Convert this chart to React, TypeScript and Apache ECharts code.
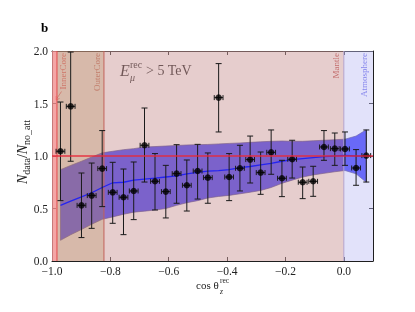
import React, { useEffect, useRef } from "react";
import * as echarts from "echarts";

// ---- data ----
const xCenters = [-0.971, -0.936, -0.899, -0.864, -0.828, -0.792, -0.755, -0.72, -0.683, -0.647, -0.61, -0.573, -0.538, -0.501, -0.466, -0.429, -0.393, -0.356, -0.321, -0.285, -0.249, -0.212, -0.177, -0.141, -0.105, -0.068, -0.031, 0.004, 0.042, 0.077];
const ratio = [1.045, 1.473, 0.53, 0.623, 0.88, 0.654, 0.607, 0.667, 1.102, 0.759, 0.661, 0.832, 0.721, 0.857, 0.794, 1.556, 0.8, 0.883, 0.966, 0.842, 1.035, 0.788, 0.969, 0.75, 0.759, 1.086, 1.07, 1.067, 0.886, 1.004];
const errHigh = [1.514, 1.99, 0.838, 0.933, 1.242, 0.94, 0.876, 0.943, 1.457, 1.023, 0.911, 1.108, 0.962, 1.111, 1.029, 1.88, 1.023, 1.102, 1.19, 1.038, 1.248, 0.959, 1.15, 0.895, 0.902, 1.242, 1.219, 1.229, 1.061, 1.248];
const errLow = [0.575, 0.95, 0.223, 0.311, 0.518, 0.359, 0.251, 0.394, 0.752, 0.486, 0.41, 0.55, 0.476, 0.59, 0.55, 1.229, 0.575, 0.667, 0.743, 0.635, 0.826, 0.613, 0.79, 0.594, 0.616, 0.959, 0.911, 0.911, 0.721, 0.752];
const xErr = 0.015;
const bandUpper = [0.87, 0.91, 0.95, 0.99, 1.03, 1.045, 1.06, 1.07, 1.085, 1.09, 1.095, 1.1, 1.105, 1.108, 1.11, 1.115, 1.12, 1.124, 1.13, 1.135, 1.14, 1.143, 1.14, 1.14, 1.145, 1.15, 1.155, 1.16, 1.19, 1.25];
const bandLower = [0.197, 0.25, 0.3, 0.35, 0.397, 0.42, 0.445, 0.465, 0.475, 0.485, 0.5, 0.53, 0.555, 0.575, 0.6, 0.615, 0.625, 0.64, 0.655, 0.672, 0.7, 0.74, 0.77, 0.8, 0.82, 0.835, 0.85, 0.862, 0.83, 0.75];
const bandMedian = [0.53, 0.57, 0.61, 0.65, 0.7, 0.745, 0.75, 0.77, 0.78, 0.79, 0.8, 0.81, 0.83, 0.845, 0.855, 0.86, 0.87, 0.89, 0.9, 0.915, 0.93, 0.95, 0.965, 0.975, 0.985, 0.995, 1.0, 1.005, 1.0, 1.0];
const refLevel = 1.0;

const regionNames = ["InnerCore", "OuterCore", "Mantle", "Atmosphere"];
const regionStart = [-1.0, -0.983, -0.822, 0.0];
const regionEnd = [-0.983, -0.822, 0.0, 0.1];
const boundaries = [-0.983, -0.822, 0.0];

const xTicks = [-1.0, -0.8, -0.6, -0.4, -0.2, 0.0];
const yTicks = [0.0, 0.5, 1.0, 1.5, 2.0];

// ---- styles ----
const X_MIN = -1.0, X_MAX = 0.1, Y_MIN = 0, Y_MAX = 2.0;
const regionFill = ["rgba(241,144,144,0.8)", "rgba(192,146,122,0.64)", "rgba(205,155,155,0.5)", "rgba(189,189,244,0.44)"];
const boundaryColor = ["#e5484c", "#c2605a", "#b4a4cc"];
const regionLabelColor = ["#e8484c", "#c45a52", "#b83c3c", "#5a5ae6"];
const regionLabelX = [62.5, 97, 336, 364];
const SERIF = '"Liberation Serif", "DejaVu Serif", serif';

const fmt = (v: number) => {
  if (!xTicks.concat(yTicks).some((t) => Math.abs(t - v) < 1e-6)) return "";
  const s = Math.abs(v).toFixed(1);
  return v < -1e-9 ? "\u2212" + s : s;
};

export default function App() {
  const ref = useRef<HTMLDivElement>(null);
  useEffect(() => {
    const chart = echarts.init(ref.current!, null, { renderer: "svg" });
    const axisCommon = {
      axisLine: { show: true, onZero: false, lineStyle: { color: "#1e1e1e", width: 1 } },
      axisTick: { show: true, inside: true, length: 4, lineStyle: { color: "#1e1e1e", width: 1 } },
      splitLine: { show: false },
    };
    const labelStyle = { color: "#222", fontFamily: SERIF, fontSize: 11.5, lineHeight: 10, margin: 4, formatter: fmt };
    const xLabelStyle = { ...labelStyle, margin: 5 };
    const option: any = {
      animation: false,
      grid: { left: 52, top: 51, width: 321, height: 210 },
      xAxis: [
        { type: "value", min: X_MIN, max: X_MAX, interval: 0.2, position: "bottom", ...axisCommon, axisLabel: xLabelStyle },
        { type: "value", min: X_MIN, max: X_MAX, interval: 0.2, position: "top", ...axisCommon, axisLabel: { show: false } },
      ],
      yAxis: [
        { type: "value", min: Y_MIN, max: Y_MAX, interval: 0.5, position: "left", ...axisCommon, axisLabel: labelStyle },
        { type: "value", min: Y_MIN, max: Y_MAX, interval: 0.5, position: "right", ...axisCommon, axisLabel: { show: false } },
      ],
      series: [
        {
          type: "custom", name: "band", z: 2, silent: true,
          data: [[xCenters[0], bandLower[0]]],
          renderItem: (params: any, api: any) => {
            const top = xCenters.map((x, i) => api.coord([x, bandUpper[i]]));
            const bot = xCenters.map((x, i) => api.coord([x, bandLower[i]])).reverse();
            return {
              type: "polygon",
              shape: { points: top.concat(bot) },
              style: { fill: "rgb(40,40,250)", stroke: "rgba(50,40,120,0.85)", lineWidth: 0.8 },
            };
          },
        },
        {
          type: "custom", name: "regions", z: 3, silent: true,
          data: regionStart.map((s, i) => [s, regionEnd[i]]),
          renderItem: (params: any, api: any) => {
            const p0 = api.coord([api.value(0), Y_MAX]);
            const p1 = api.coord([api.value(1), Y_MIN]);
            return {
              type: "rect",
              shape: { x: p0[0], y: p0[1], width: p1[0] - p0[0], height: p1[1] - p0[1] },
              style: { fill: regionFill[params.dataIndex] },
            };
          },
        },
        {
          type: "custom", name: "boundaries", z: 4, silent: true,
          data: boundaries.map((b) => [b]),
          renderItem: (params: any, api: any) => {
            const p0 = api.coord([api.value(0), Y_MAX]);
            const p1 = api.coord([api.value(0), Y_MIN]);
            return {
              type: "line",
              shape: { x1: p0[0], y1: p0[1], x2: p1[0], y2: p1[1] },
              style: { stroke: boundaryColor[params.dataIndex], lineWidth: 1 },
            };
          },
        },
        {
          type: "line", name: "median", symbol: "none", z: 5, silent: true,
          data: xCenters.map((x, i) => [x, bandMedian[i]]),
          lineStyle: { color: "#2424f0", width: 1.3 },
        },
        {
          type: "custom", name: "errors", z: 6, silent: true,
          data: xCenters.map((x, i) => [x, ratio[i], errLow[i], errHigh[i]]),
          encode: { x: 0, y: [1, 2, 3] },
          renderItem: (params: any, api: any) => {
            const x = api.value(0), y = api.value(1), lo = api.value(2), hi = api.value(3);
            const pl = api.coord([x, lo]);
            const ph = api.coord([x, hi]);
            const xl = api.coord([x - xErr, y]);
            const xr = api.coord([x + xErr, y]);
            const cap = 3;
            const st = { stroke: "#1a1a1a", lineWidth: 1 };
            const ln = (x1: number, y1: number, x2: number, y2: number) => ({ type: "line", shape: { x1, y1, x2, y2 }, style: st });
            return {
              type: "group",
              children: [
                ln(pl[0], pl[1], ph[0], ph[1]),
                ln(ph[0] - cap, ph[1], ph[0] + cap, ph[1]),
                ln(pl[0] - cap, pl[1], pl[0] + cap, pl[1]),
                ln(xl[0], xl[1], xr[0], xr[1]),
                ln(xl[0], xl[1] - 2.5, xl[0], xl[1] + 2.5),
                ln(xr[0], xr[1] - 2.5, xr[0], xr[1] + 2.5),
              ],
            };
          },
        },
        {
          type: "scatter", name: "data", z: 7, silent: true, symbol: "circle", symbolSize: 6.5,
          data: xCenters.map((x, i) => [x, ratio[i]]),
          itemStyle: { color: "#000" },
        },
        {
          type: "line", name: "reference", z: 8, silent: true, symbol: "none",
          data: [[X_MIN, refLevel], [X_MAX, refLevel]],
          lineStyle: { color: "rgba(232,40,56,0.9)", width: 1.6 },
        },
      ],
      graphic: [
        { type: "text", x: 41, y: 27, style: { text: "b", font: `bold 13px ${SERIF}`, fill: "#000", textVerticalAlign: "middle" } },
        // E_mu^rec > 5 TeV
        { type: "text", x: 120, y: 70, style: { text: "E", font: `italic 16px ${SERIF}`, fill: "#111", textVerticalAlign: "middle" } },
        { type: "text", x: 130, y: 64, style: { text: "rec", font: `10px ${SERIF}`, fill: "#111", textVerticalAlign: "middle" } },
        { type: "text", x: 130, y: 77, style: { text: "\u03bc", font: `italic 10px ${SERIF}`, fill: "#111", textVerticalAlign: "middle" } },
        { type: "text", x: 146, y: 70, style: { text: "> 5 TeV", font: `14px ${SERIF}`, fill: "#111", textVerticalAlign: "middle" } },
        // x-axis name
        { type: "text", x: 196, y: 285, style: { text: "cos \u03b8", font: `11px ${SERIF}`, fill: "#222", textVerticalAlign: "middle" } },
        { type: "text", x: 220, y: 280, style: { text: "rec", font: `7.5px ${SERIF}`, fill: "#222", textVerticalAlign: "middle" } },
        { type: "text", x: 220, y: 291, style: { text: "z", font: `italic 7.5px ${SERIF}`, fill: "#222", textVerticalAlign: "middle" } },
        // y-axis name
        {
          type: "text", x: 22, y: 152, rotation: Math.PI / 2,
          style: {
            text: "{i|N}{s|data}{n|/}{i|N}{s|no_att}",
            textAlign: "center", textVerticalAlign: "middle", fill: "#222",
            rich: {
              i: { fontFamily: SERIF, fontStyle: "italic", fontSize: 14, lineHeight: 18, fill: "#222", color: "#222" },
              n: { fontFamily: SERIF, fontSize: 14, lineHeight: 18, fill: "#222", color: "#222" },
              s: { fontFamily: SERIF, fontSize: 10, lineHeight: 10, verticalAlign: "bottom", fill: "#222", color: "#222" },
            },
          },
        },
        // region labels
        ...regionNames.map((name, i) => ({
          type: "text", x: regionLabelX[i], y: 53, rotation: Math.PI / 2,
          style: { text: name, font: `9px ${SERIF}`, fill: regionLabelColor[i], textAlign: "right", textVerticalAlign: "middle" },
        })),
        // inner core arrow
        { type: "line", shape: { x1: 61.5, y1: 91.5, x2: 56.5, y2: 99 }, style: { stroke: "#e8484c", lineWidth: 0.8 } },
        { type: "polyline", shape: { points: [[56, 96], [56, 100], [59.5, 98.5]] }, style: { stroke: "#e8484c", lineWidth: 0.8, fill: "none" } },
      ],
    };
    chart.setOption(option);
    return () => chart.dispose();
  }, []);
  return <div ref={ref} style={{ position: "fixed", left: 0, top: 0, width: 415, height: 312 }} />;
}
